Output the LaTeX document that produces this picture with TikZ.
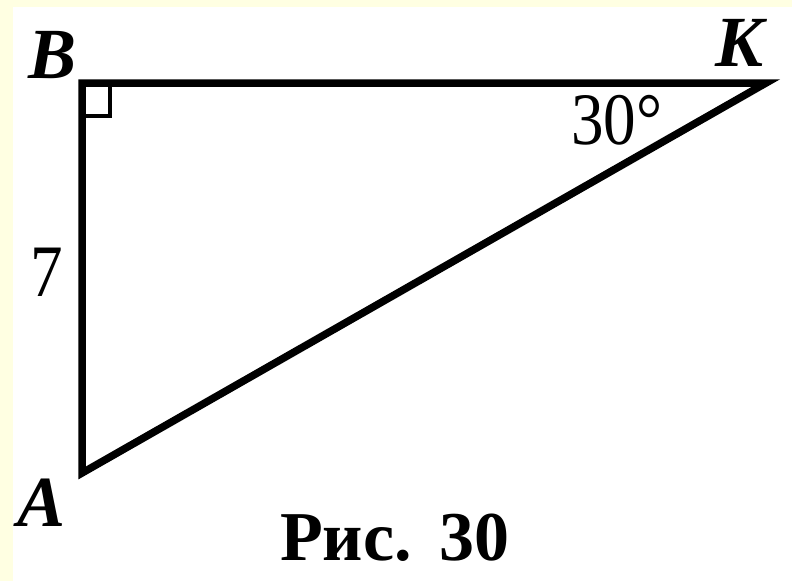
\documentclass[tikz,border=0pt]{standalone}
\usepackage{fontspec}
\setmainfont{Liberation Serif}
\definecolor{cream}{RGB}{255,255,226}
\tikzset{
  side/.style={line width=7.5pt, line join=miter, line cap=round},
  lbl/.style={inner sep=0pt, font=\fontsize{72}{72}\selectfont\bfseries\itshape},
  num/.style={inner sep=0pt, xscale=0.88, font=\fontsize{74}{74}\selectfont},
  captxt/.style={inner sep=0pt, font=\fontsize{70}{70}\selectfont\bfseries},
  rightmark/.style={line width=3.5pt}
}
\begin{document}
\begin{tikzpicture}[x=1pt,y=-1pt]
\useasboundingbox (0,0) rectangle (792,581);
\fill[cream] (0,0) rectangle (792,581);
\fill[white] (13,7) rectangle (792,581);
\coordinate (B) at (82,83);
\coordinate (K) at (766,83);
\coordinate (A) at (82,473);
\draw[side] (A) -- (B) -- (K) -- cycle;
\draw[rightmark] ([shift={(1,33)}]B) -| ([shift={(28,2)}]B);
\node[lbl] (lB) at (53,55) {B};
\node[lbl] (lK) at (740,43) {K};
\node[lbl] (lA) at (42,503) {A};
\node[num] (l7) at (47,272) {7};
\node[num] (l30) at (617,120) {30°};
\node[captxt] (cap) at (395,538) {Рис.\hspace{0.4em}30};
\end{tikzpicture}
\end{document}
